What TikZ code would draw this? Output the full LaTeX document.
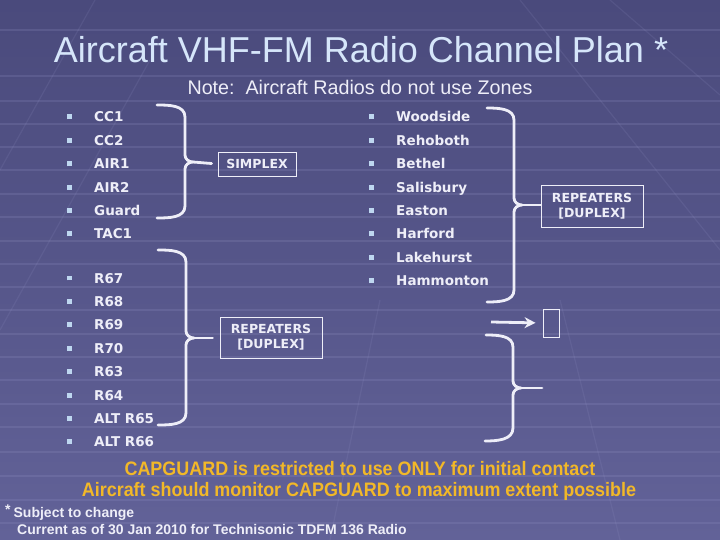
\documentclass[tikz,border=0pt]{standalone}
\usepackage{fontspec}
\setmainfont{Liberation Sans}
\newfontfamily\listfont{DejaVu Sans}
\usetikzlibrary{positioning, arrows.meta}

\definecolor{bgtop}{RGB}{74,74,124}
\definecolor{bgbot}{RGB}{98,98,152}
\definecolor{chalk}{RGB}{238,238,248}
\definecolor{titleblue}{RGB}{214,230,250}
\definecolor{bulletblue}{RGB}{190,215,240}
\definecolor{capyellow}{RGB}{242,184,40}
\definecolor{gridline}{RGB}{150,150,200}

\newcommand{\sqbullet}{{\color{bulletblue}\rule[2.5pt]{5pt}{5pt}}\hspace{22pt}}
\newcommand{\narrowtext}[1]{\scalebox{0.92}[1]{#1}}

\begin{document}
\begin{tikzpicture}[
    x=1pt, y=-1pt,
    item/.style={anchor=west, inner sep=0pt, text=chalk, text height=12pt, text depth=2pt,
                 font=\listfont\bfseries\fontsize{13.5}{16}\selectfont},
    next/.style={below=9pt of #1.south west, anchor=north west},
    tag/.style={draw=chalk, line width=0.9pt, text=chalk, align=center, inner sep=0pt,
                font=\listfont\bfseries\fontsize{12.5}{15}\selectfont},
    bracket/.style={draw=chalk, line width=2.8pt, line cap=round, line join=round},
    arrow/.style={-{Stealth[length=11pt, width=11pt]}, draw=chalk, line width=2.8pt},
    capnote/.style={anchor=base, inner sep=0pt, text=capyellow, font=\bfseries\fontsize{19.5}{22}\selectfont},
    foot/.style={anchor=base west, inner sep=0pt, text=chalk, font=\bfseries\fontsize{14}{16}\selectfont},
]

% Background
\useasboundingbox (0,0) rectangle (720,540);
\shade[top color=bgtop, bottom color=bgbot] (0,0) rectangle (720,540);
\begin{scope}[draw=gridline, opacity=0.2, line width=1.2pt]
  \foreach \gy in {30,76,101,124,147,170,194,217,241,264,287,310,334,357,380,404,427,452,476,500,523}
    \draw (0,\gy) -- (720,\gy);
\end{scope}
\begin{scope}[draw=gridline, opacity=0.14, line width=1.2pt]
  \draw (0,170) -- (95,0);
  \draw (0,330) -- (150,60);
  \draw (610,0) -- (720,95);
  \draw (520,0) -- (720,250);
  \draw (330,540) -- (380,300);
  \draw (620,540) -- (560,300);
\end{scope}

% Title
\node[anchor=base, inner sep=0pt, text=titleblue, font=\fontsize{36}{40}\selectfont] (title) at (361,63)
    {Aircraft VHF-FM Radio Channel Plan *};
\node[anchor=base, inner sep=0pt, text=chalk, font=\fontsize{19.7}{22}\selectfont] (note) at (360,95)
    {Note:\ \ Aircraft Radios do not use Zones};

% Simplex channels
\node[item] (cc1) at (67,117) {\sqbullet CC1};
\node[item, next=cc1] (cc2) {\sqbullet CC2};
\node[item, next=cc2] (air1) {\sqbullet AIR1};
\node[item, next=air1] (air2) {\sqbullet AIR2};
\node[item, next=air2] (guard) {\sqbullet Guard};
\node[item, next=guard] (tac1) {\sqbullet TAC1};

% Repeater channels
\node[item] (r67) at (67,278) {\sqbullet R67};
\node[item, next=r67] (r68) {\sqbullet R68};
\node[item, next=r68] (r69) {\sqbullet R69};
\node[item, next=r69] (r70) {\sqbullet R70};
\node[item, next=r70] (r63) {\sqbullet R63};
\node[item, next=r63] (r64) {\sqbullet R64};
\node[item, next=r64] (altr65) {\sqbullet ALT R65};
\node[item, next=altr65] (altr66) {\sqbullet ALT R66};

% Repeater sites
\node[item] (woodside) at (369,117) {\sqbullet Woodside};
\node[item, next=woodside] (rehoboth) {\sqbullet Rehoboth};
\node[item, next=rehoboth] (bethel) {\sqbullet Bethel};
\node[item, next=bethel] (salisbury) {\sqbullet Salisbury};
\node[item, next=salisbury] (easton) {\sqbullet Easton};
\node[item, next=easton] (harford) {\sqbullet Harford};
\node[item, next=harford] (lakehurst) {\sqbullet Lakehurst};
\node[item, next=lakehurst] (hammonton) {\sqbullet Hammonton};

% Boxes
\node[tag, minimum width=78pt, minimum height=24pt] (simplex) at (257,164) {SIMPLEX};
\node[tag, minimum width=102pt, minimum height=41pt] (rptleft) at (271,337.5) {REPEATERS\\{}[DUPLEX]};
\node[tag, minimum width=102pt, minimum height=42pt] (rptright) at (592,206) {REPEATERS\\{}[DUPLEX]};
\node[tag, minimum width=16pt, minimum height=28pt] (blank) at (551,323) {};

\coordinate (arrowstart) at (491,322);
\coordinate (tipfour) at (542,388);

% Braces
\draw[bracket] (157,105) to[out=0, in=90] (185,117) -- (185,155) to[out=-90, in=180] (193,162)
    to[out=180, in=90] (185,169) -- (185,206) to[out=-90, in=0] (157,218);
\draw[bracket, shorten >=6pt] (193,162) -- (simplex.west);

\draw[bracket] (158,250) to[out=0, in=90] (186,262) -- (186,331) to[out=-90, in=180] (194,338)
    to[out=180, in=90] (186,345) -- (186,413) to[out=-90, in=0] (158,425);
\draw[bracket, shorten >=7pt] (194,338) -- (rptleft.west |- 0,338);

\draw[bracket] (487,108) to[out=0, in=90] (514,120) -- (514,198) to[out=-90, in=180] (522,205)
    to[out=180, in=90] (514,212) -- (514,290) to[out=-90, in=0] (487,302);
\draw[bracket] (522,205) -- (rptright.west |- 0,205);

\draw[arrow, shorten >=7pt] (arrowstart) -- (blank.west);

\draw[bracket] (486,335) to[out=0, in=90] (513,347) -- (513,381) to[out=-90, in=180] (521,388)
    to[out=180, in=90] (513,395) -- (513,428) to[out=-90, in=0] (485,441);
\draw[bracket] (521,388) -- (tipfour);

% Notes
\node[capnote] (cap1) at (360,475) {\narrowtext{CAPGUARD is restricted to use ONLY for initial contact}};
\node[capnote] (cap2) at (359,496) {\narrowtext{Aircraft should monitor CAPGUARD to maximum extent possible}};
\node[foot] (subject) at (5,517) {\raisebox{3pt}{*}\hspace{3pt}Subject to change};
\node[foot] (current) at (17,534) {Current as of 30 Jan 2010 for Technisonic TDFM 136 Radio};

\end{tikzpicture}
\end{document}
